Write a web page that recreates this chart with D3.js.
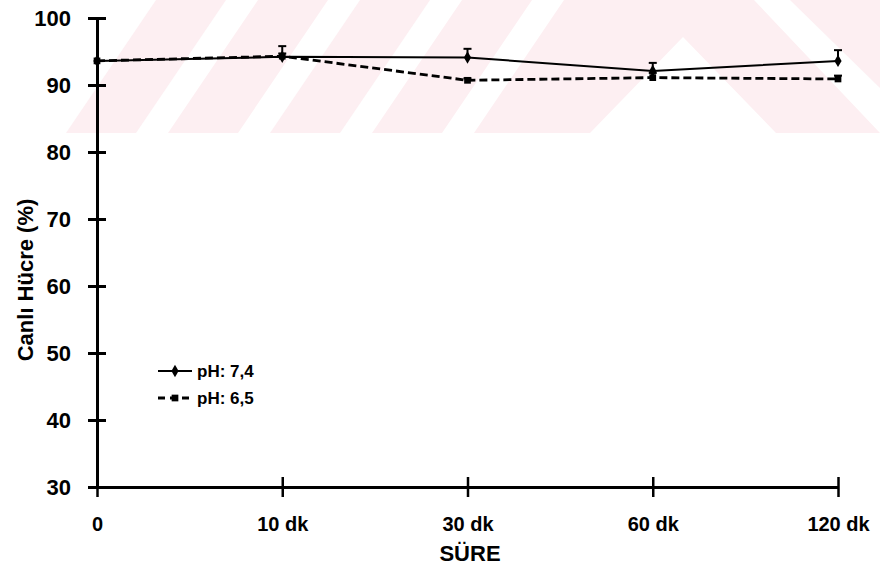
<!DOCTYPE html>
<html>
<head>
<meta charset="utf-8">
<script src="https://cdn.jsdelivr.net/npm/d3@7"></script>
<style>
  html, body { margin: 0; padding: 0; background: #ffffff; }
  svg { display: block; }
  text { font-family: "Liberation Sans", Arial, sans-serif; font-weight: bold; fill: #000; }
</style>
</head>
<body>
<svg id="chart" width="880" height="571"></svg>
<script>
// Time points and viability (%) for the two pH conditions
const categories = ["0", "10 dk", "30 dk", "60 dk", "120 dk"];
const ph74 = [93.6, 94.2, 94.1, 92.1, 93.6];
const ph74Err = [0, 1.6, 1.3, 1.2, 1.6];
const ph65 = [93.6, 94.3, 90.7, 91.1, 90.9];
const ph65Err = [0, 0.4, 0.3, 0.7, 0.5];
const yTicks = [30, 40, 50, 60, 70, 80, 90, 100];
const seriesNames = ["pH: 7,4", "pH: 6,5"];
const xTitle = "SÜRE";
const yTitle = "Canlı Hücre (%)";

const svg = d3.select("#chart");

// Faint background stamp in the upper band
svg.append("clipPath").attr("id", "band")
  .append("rect").attr("x", 0).attr("y", 0).attr("width", 880).attr("height", 133);
const stamp = svg.append("g").attr("fill", "#fdeff2").attr("clip-path", "url(#band)");
const stripeStarts = [66, 168, 270, 372, 474];
stripeStarts.forEach(b => {
  stamp.append("polygon")
    .attr("points", [[b, 133], [b + 70, 133], [b + 160, 0], [b + 90, 0]].map(p => p.join(",")).join(" "));
});
stamp.append("path")
  .attr("fill-rule", "evenodd")
  .attr("d", "M683,-75 L880,133 L486,133 Z M683,37 L590,133 L776,133 Z");
stamp.append("polygon").attr("points", "790,0 880,0 880,88");

const x = d3.scalePoint().domain(categories).range([97, 838]);
const y = d3.scaleLinear().domain([30, 100]).range([487, 18]);

// Y axis
const yAxis = svg.append("g")
  .attr("transform", `translate(${x(categories[0])},0)`)
  .call(d3.axisLeft(y).tickValues(yTicks).tickSize(9).tickPadding(17).tickSizeOuter(0));
yAxis.select(".domain").attr("stroke", "#000").attr("stroke-width", 3);
yAxis.selectAll(".tick line").attr("x1", -9).attr("x2", 9).attr("stroke", "#000").attr("stroke-width", 3);
yAxis.selectAll(".tick text").attr("font-size", 22).attr("dy", "0.36em")
  .style("font-family", "'Liberation Sans', Arial, sans-serif").style("font-weight", "bold");

// X axis
const xAxis = svg.append("g")
  .attr("transform", `translate(0,${y(30)})`)
  .call(d3.axisBottom(x).tickSize(10).tickPadding(20).tickSizeOuter(0));
xAxis.select(".domain").attr("stroke", "#000").attr("stroke-width", 3);
xAxis.selectAll(".tick line").attr("y1", -10).attr("y2", 10).attr("stroke", "#000").attr("stroke-width", 2.5);
xAxis.selectAll(".tick text").attr("font-size", 20)
  .style("font-family", "'Liberation Sans', Arial, sans-serif").style("font-weight", "bold");

// Axis titles
svg.append("text").attr("x", 470).attr("y", 561).attr("text-anchor", "middle")
  .attr("font-size", 22).text(xTitle);
svg.append("text").attr("transform", "translate(33,280) rotate(-90)").attr("text-anchor", "middle")
  .attr("font-size", 22).text(yTitle);

// Series lines
const line = d3.line().x((d, i) => x(categories[i])).y(d => y(d));
svg.append("path").datum(ph65).attr("d", line)
  .attr("fill", "none").attr("stroke", "#000").attr("stroke-width", 2.8).attr("stroke-dasharray", "8,4");
svg.append("path").datum(ph74).attr("d", line)
  .attr("fill", "none").attr("stroke", "#000").attr("stroke-width", 2);

// Upper error bars
function errBars(vals, errs) {
  const g = svg.append("g").attr("stroke", "#000").attr("stroke-width", 2);
  vals.forEach((v, i) => {
    if (!errs[i]) return;
    const cx = x(categories[i]);
    g.append("line").attr("x1", cx).attr("x2", cx).attr("y1", y(v)).attr("y2", y(v + errs[i]));
    g.append("line").attr("x1", cx - 4).attr("x2", cx + 4).attr("y1", y(v + errs[i])).attr("y2", y(v + errs[i]));
  });
}
errBars(ph74, ph74Err);
errBars(ph65, ph65Err);

// Markers
const sq = d3.symbol().type(d3.symbolSquare).size(45);
const dia = d3.symbol().type(d3.symbolDiamond).size(45);
svg.append("g").selectAll("path").data(ph65).join("path")
  .attr("d", sq).attr("transform", (d, i) => `translate(${x(categories[i])},${y(d)})`).attr("fill", "#000");
svg.append("g").selectAll("path").data(ph74).join("path")
  .attr("d", dia).attr("transform", (d, i) => `translate(${x(categories[i])},${y(d)})`).attr("fill", "#000");

// Legend
const legend = svg.append("g");
[0, 1].forEach(k => {
  const ly = 371 + k * 27;
  legend.append("line").attr("x1", 158).attr("x2", 192).attr("y1", ly).attr("y2", ly)
    .attr("stroke", "#000").attr("stroke-width", k ? 2.8 : 2).attr("stroke-dasharray", k ? "7,5" : null);
  legend.append("path").attr("d", k ? sq : dia).attr("transform", `translate(175,${ly})`).attr("fill", "#000");
  legend.append("text").attr("x", 197).attr("y", ly + 6).attr("font-size", 17).text(seriesNames[k]);
});
</script>
</body>
</html>
